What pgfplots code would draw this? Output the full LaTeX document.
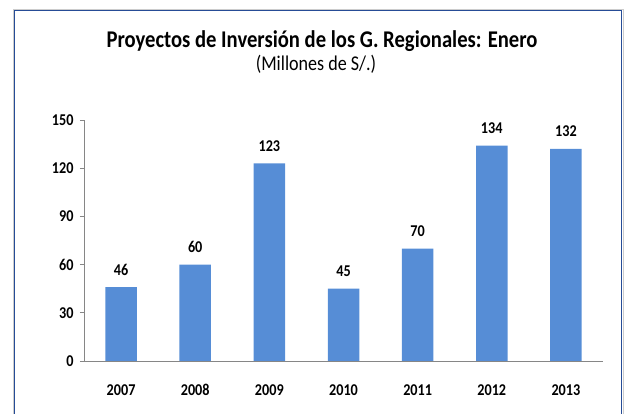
\documentclass[border=0pt]{standalone}
\usepackage{pgfplots}
\pgfplotsset{compat=1.18}
\usepackage{fontspec}
\setmainfont{Carlito}
\newfontfamily\calf[FakeStretch=0.86]{Carlito}

\definecolor{barblue}{RGB}{86,141,214}
\definecolor{framecol}{RGB}{38,76,150}
\definecolor{axgray}{RGB}{134,134,134}

\begin{document}
\begin{tikzpicture}
  \begin{axis}[
    scale only axis,
    width=519pt, height=241pt,
    xmin=-0.5, xmax=6.5,
    ymin=0, ymax=150,
    axis lines*=left,
    axis line style={axgray, line width=0.8pt},
    ytick={0,30,...,150},
    xtick={0,...,6},
    xticklabels={2007,2008,2009,2010,2011,2012,2013},
    x tick style={draw=none},
    y tick style={axgray, line width=0.8pt},
    tick align=outside,
    major tick length=4pt,
    extra x ticks={-0.5,0.5,...,6.5},
    extra x tick labels={},
    extra x tick style={tick style={draw=axgray, line width=0.8pt}, major tick length=5pt},
    /pgf/number format/assume math mode=true,
    ticklabel style={font=\calf\fontsize{16.5}{18}\selectfont\bfseries},
    yticklabel style={xshift=-3pt},
    xticklabel style={anchor=base, yshift=-30.7pt},
    ybar, bar width=31.5pt,
    nodes near coords,
    every node near coord/.append style={font=\calf\fontsize{16.5}{18}\selectfont\bfseries, anchor=base, inner sep=0pt, yshift=12pt},
    clip=false,
  ]
  \addplot[fill=barblue, draw=none] coordinates {
    (0,46) (1,60) (2,123) (3,45) (4,70) (5,134) (6,132)
  };
  \coordinate (O) at (rel axis cs:0,0);
  \end{axis}

  \begin{scope}[shift={(O)}, x=1pt, y=1pt]
    % page: 624 x 414, axis corner sits at (84,53)
    \path[use as bounding box] (-84,-53) rectangle (540,361);
    \draw[black!20, line width=0.8pt] (-71,-60) rectangle (539,351.6);
    \draw[framecol, line width=1.4pt] (-69.7,-58) rectangle (537.7,350.3);
    \node[anchor=base, inner sep=0pt] at (238,313.5)
      {\calf\fontsize{24}{27}\selectfont\bfseries Proyectos de Inversión de los G. Regionales: Enero};
    \node[anchor=base, inner sep=0pt] at (232,290)
      {\calf\fontsize{21}{24}\selectfont (Millones de S/.)};
  \end{scope}
\end{tikzpicture}
\end{document}
